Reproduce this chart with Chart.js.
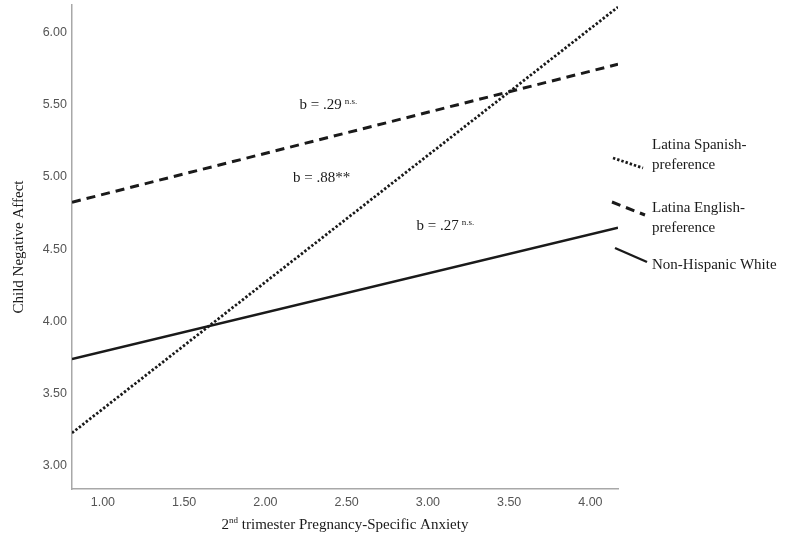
<!DOCTYPE html>
<html><head><meta charset="utf-8">
<script src="https://cdn.jsdelivr.net/npm/chart.js@4.4.0/dist/chart.umd.min.js"></script>
<style>html,body{margin:0;padding:0;background:#fff}</style>
</head><body>
<canvas id="c" width="800" height="549"></canvas>
<script>
// ---- data ----
const anxiety = [0.81, 4.17];            // x extent of the simple slopes
const spanishPref = [3.228, 6.176];      // Latina Spanish-preference
const englishPref = [4.825, 5.78];       // Latina English-preference
const nonHispWhite = [3.74, 4.648];      // Non-Hispanic White
const xTickValues = [1.0, 1.5, 2.0, 2.5, 3.0, 3.5, 4.0];
const yTickValues = [3.0, 3.5, 4.0, 4.5, 5.0, 5.5, 6.0];
const legendLines = [['Latina Spanish-', 'preference'], ['Latina English-', 'preference'], ['Non-Hispanic White']];
const slopeLabels = ['b = .29', 'b = .88**', 'b = .27'];
const slopeSups = ['n.s.', '', 'n.s.'];

const serif = '"Liberation Serif", "Times New Roman", serif';
const sans = '"Liberation Sans", Arial, sans-serif';
const ink = '#1a1a1a';

function pts(ys) { return anxiety.map((x, i) => ({x, y: ys[i]})); }

const styles = [
  {dash: [2.4, 2.0], width: 2.8},
  {dash: [9, 6], width: 3},
  {dash: [], width: 2.4}
];
const seriesData = [spanishPref, englishPref, nonHispWhite];

function drawSup(ctx, x, y, main, sup) {
  ctx.font = `15px ${serif}`;
  ctx.textAlign = 'left';
  ctx.textBaseline = 'middle';
  ctx.fillText(main, x, y);
  if (sup) {
    const w = ctx.measureText(main).width;
    ctx.font = `9px ${serif}`;
    ctx.fillText(sup, x + w + 3, y - 3);
  }
}

const overlay = {
  id: 'overlay',
  afterDraw(chart) {
    const {ctx, chartArea, scales} = chart;
    const xs = scales.x, ys = scales.y;
    ctx.save();
    ctx.fillStyle = ink;
    const annPos = [[2.21, 5.50], [2.17, 4.995], [2.93, 4.662]];
    slopeLabels.forEach((t, i) => {
      drawSup(ctx, xs.getPixelForValue(annPos[i][0]), ys.getPixelForValue(annPos[i][1]), t, slopeSups[i]);
    });
    const R = chartArea.right;
    const segs = [[-5, 158, 25, 168], [-6, 202, 27, 215], [-3, 248, 29, 262]];
    const textY = [[145, 165], [208, 228], [265]];
    segs.forEach((s, i) => {
      ctx.beginPath();
      ctx.setLineDash(styles[i].dash);
      ctx.lineWidth = styles[i].width;
      ctx.strokeStyle = ink;
      ctx.moveTo(R + s[0], s[1]);
      ctx.lineTo(R + s[2], s[3]);
      ctx.stroke();
      ctx.setLineDash([]);
      ctx.font = `15px ${serif}`;
      ctx.textAlign = 'left';
      ctx.textBaseline = 'middle';
      legendLines[i].forEach((ln, j) => ctx.fillText(ln, R + 34, textY[i][j]));
    });
    const cx = (chartArea.left + chartArea.right) / 2;
    const ty = 525;
    ctx.font = `15px ${serif}`;
    const a = '2', b = 'nd', c = ' trimester Pregnancy-Specific Anxiety';
    const wa = ctx.measureText(a).width, wc = ctx.measureText(c).width;
    ctx.font = `9px ${serif}`;
    const wb = ctx.measureText(b).width;
    let x0 = cx - (wa + wb + wc) / 2;
    ctx.textAlign = 'left';
    ctx.textBaseline = 'middle';
    ctx.font = `15px ${serif}`;
    ctx.fillText(a, x0, ty);
    ctx.font = `9px ${serif}`;
    ctx.fillText(b, x0 + wa, ty - 4);
    ctx.font = `15px ${serif}`;
    ctx.fillText(c, x0 + wa + wb, ty);
    ctx.restore();
  }
};

new Chart(document.getElementById('c'), {
  type: 'line',
  data: {
    datasets: seriesData.map((d, i) => ({
      label: legendLines[i].join(''),
      data: pts(d),
      borderColor: ink,
      borderWidth: styles[i].width,
      borderDash: styles[i].dash,
      pointRadius: 0,
      fill: false,
      tension: 0
    }))
  },
  options: {
    responsive: false,
    animation: false,
    devicePixelRatio: 1,
    layout: {padding: {left: 0, right: 182, top: 5, bottom: 0}},
    plugins: {legend: {display: false}, tooltip: {enabled: false}},
    scales: {
      x: {
        type: 'linear',
        min: anxiety[0], max: anxiety[1],
        afterBuildTicks: s => { s.ticks = xTickValues.map(v => ({value: v})); },
        afterFit: s => { s.height = 60; s.paddingLeft = 0; s.paddingRight = 0; },
        grid: {display: false, drawTicks: false},
        border: {display: true, color: '#a8a8a8', width: 1.5},
        ticks: {padding: 6, color: '#555', font: {family: sans, size: 12.5}, callback: v => Number(v).toFixed(2), maxRotation: 0, autoSkip: false}
      },
      y: {
        type: 'linear',
        min: 2.84, max: 6.19,
        afterBuildTicks: s => { s.ticks = yTickValues.map(v => ({value: v})); },
        afterFit: s => { s.width = 72; s.paddingTop = 0; s.paddingBottom = 0; },
        grid: {display: false, drawTicks: false},
        border: {display: true, color: '#a8a8a8', width: 1.5},
        ticks: {padding: 5, color: '#555', font: {family: sans, size: 12.5}, callback: v => Number(v).toFixed(2), autoSkip: false},
        title: {display: true, text: 'Child Negative Affect', color: ink, font: {family: serif, size: 15}, padding: {top: 10, bottom: 0}}
      }
    }
  },
  plugins: [overlay]
});
</script>
</body></html>
